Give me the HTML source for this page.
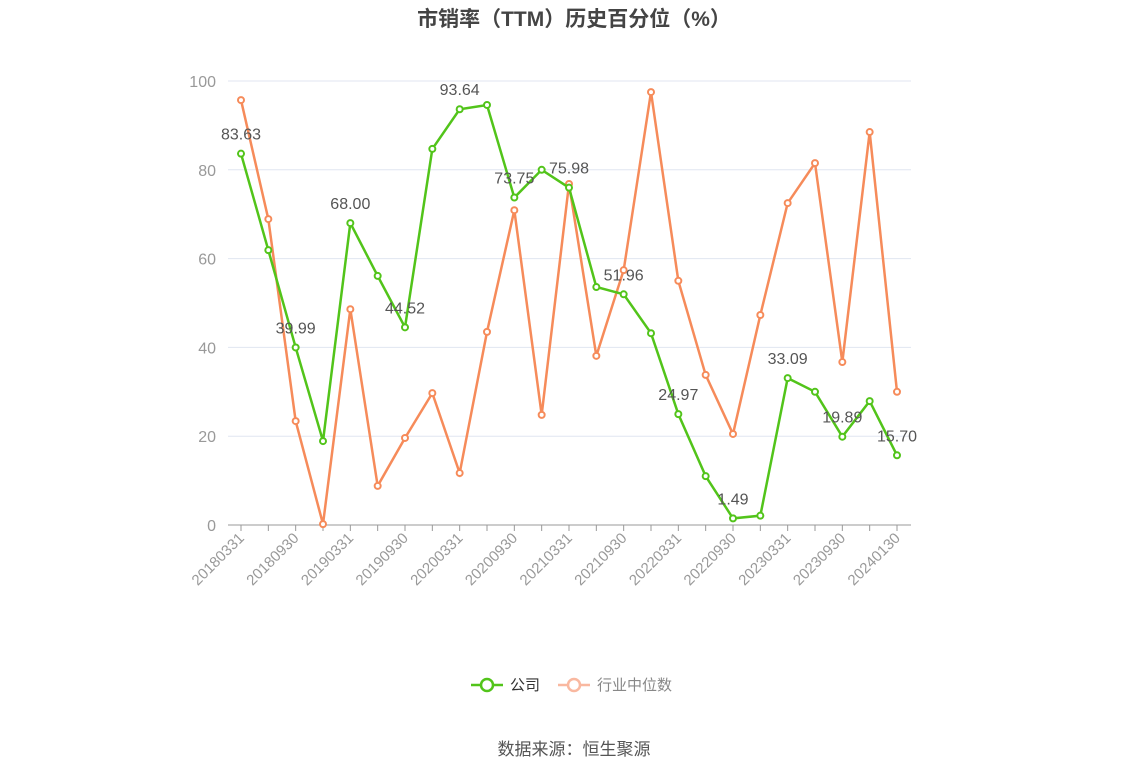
<!DOCTYPE html>
<html><head><meta charset="utf-8"><style>
html,body{margin:0;padding:0;background:#fff;}
svg{display:block;font-family:"Liberation Sans","Noto Sans CJK SC",sans-serif;}
</style></head><body>
<svg id="chart" width="1148" height="776">
<text x="574" y="26" text-anchor="middle" font-size="21" font-weight="bold" fill="#444">市销率（TTM）历史百分位（%）</text>
<g id="grid"></g><g id="axes"></g><g id="series"></g>
<g>
<g>
<line x1="471" y1="685" x2="503" y2="685" stroke="#52c41a" stroke-width="2.5"/>
<circle cx="487" cy="685" r="6" fill="#fff" stroke="#52c41a" stroke-width="2.5"/>
<text x="510" y="690" font-size="15" fill="#333">公司</text></g>
<g>
<line x1="558" y1="685" x2="590" y2="685" stroke="#f9b8a0" stroke-width="2.5"/>
<circle cx="574" cy="685" r="6" fill="#fff" stroke="#f9b8a0" stroke-width="2.5"/>
<text x="597" y="690" font-size="15" fill="#888">行业中位数</text></g>
</g>
<text x="574" y="755" text-anchor="middle" font-size="17" fill="#555">数据来源：恒生聚源</text>
</svg>
<script>
const categories=["20180331","20180630","20180930","20181231","20190331","20190630","20190930","20191231","20200331","20200630","20200930","20201231","20210331","20210630","20210930","20211231","20220331","20220630","20220930","20221231","20230331","20230630","20230930","20231231","20240130"];
const companyValues=[83.63,61.9,39.99,18.9,68.00,56.1,44.52,84.7,93.64,94.6,73.75,80.0,75.98,53.6,51.96,43.2,24.97,11.0,1.49,2.1,33.09,30.0,19.89,27.9,15.70];
const industryValues=[95.7,68.9,23.4,0.2,48.6,8.8,19.6,29.7,11.7,43.5,70.9,24.8,76.8,38.1,57.4,97.5,55.0,33.8,20.5,47.3,72.5,81.5,36.7,88.5,30.0];
const yTicks=[0,20,40,60,80,100];
const NS="http://www.w3.org/2000/svg";
const x0=241,x1=897,yB=525,yT=81,plotL=228,plotR=911;
const xs=i=>x0+(x1-x0)*i/(categories.length-1);
const ys=v=>yB-(yB-yT)*v/100;
function mk(tag,attrs,parent){const e=document.createElementNS(NS,tag);for(const k in attrs)e.setAttribute(k,attrs[k]);parent.appendChild(e);return e;}
const grid=document.getElementById('grid'),axes=document.getElementById('axes'),series=document.getElementById('series');
yTicks.forEach(t=>{
 const l=mk('line',{x1:plotL,x2:plotR,y1:ys(t),y2:ys(t),stroke:t===0?'#999':'#e0e6f1','stroke-width':1},grid);
 
 
 const tx=mk('text',{x:216,y:ys(t)+6,'text-anchor':'end','font-size':16,fill:'#999'},axes);
 tx.textContent=t;
 
 
});
categories.forEach((c,i)=>{
 const tk=mk('line',{x1:xs(i),x2:xs(i),y1:yB,y2:yB+6,stroke:'#999'},axes);
 
 
 if(i%2===0){
  const tx=mk('text',{x:xs(i)+4,y:yB+14,'text-anchor':'end','font-size':15,fill:'#999',transform:`rotate(-45 ${xs(i)+4} ${yB+14})`},axes);
  tx.textContent=c;
  
  
 }
});
function drawSeries(vals,color,name,labels){
 const p=mk('polyline',{points:vals.map((v,i)=>xs(i)+','+ys(v)).join(' '),fill:'none',stroke:color,'stroke-width':2.5},series);
 
 
 vals.forEach((v,i)=>{
  const c=mk('circle',{cx:xs(i),cy:ys(v),r:3,fill:'#fff',stroke:color,'stroke-width':2},series);
  
  
  if(labels&&i%2===0){
   const t=mk('text',{x:xs(i),y:ys(v)-14,'text-anchor':'middle','font-size':16,fill:'#555'},series);
   t.textContent=v.toFixed(2);
   
   
  }
 });
}
drawSeries(industryValues,'#f68b5a','industry',false);
drawSeries(companyValues,'#52c41a','company',true);
</script>
</body></html>
